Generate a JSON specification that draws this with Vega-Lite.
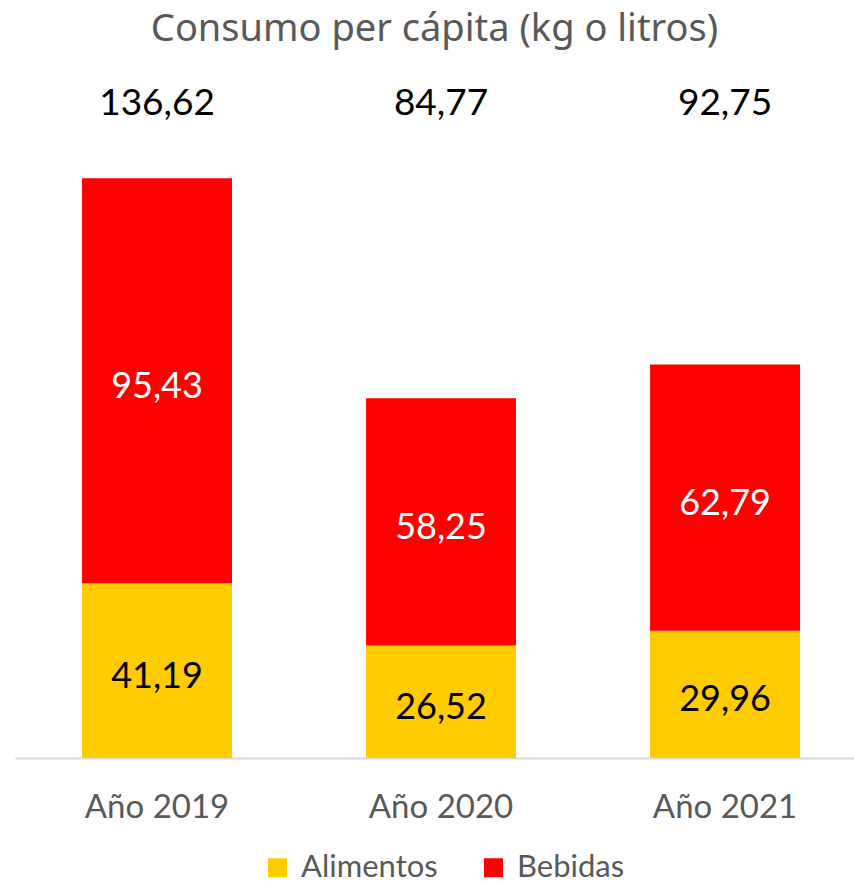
{
  "$schema": "https://vega.github.io/schema/vega-lite/v6.json",
  "autosize": {"type": "none"},
  "width": 839,
  "height": 679,
  "padding": {"left": 15, "top": 79, "right": 0, "bottom": 127},
  "background": "white",
  "config": {
    "view": {"stroke": null},
    "locale": {"number": {"decimal": ",", "thousands": ".", "grouping": [3], "currency": ["", " €"]}}
  },
  "title": {
    "text": "Consumo per cápita (kg o litros)",
    "font": "Noto Sans",
    "fontSize": 38,
    "fontWeight": "normal",
    "color": "#595959",
    "anchor": "middle",
    "baseline": "alphabetic",
    "offset": 0
  },
  "datasets": {
    "segs": [
      {"anio": "Año 2019", "tipo": "Alimentos", "valor": 41.19},
      {"anio": "Año 2019", "tipo": "Bebidas", "valor": 95.43},
      {"anio": "Año 2020", "tipo": "Alimentos", "valor": 26.52},
      {"anio": "Año 2020", "tipo": "Bebidas", "valor": 58.25},
      {"anio": "Año 2021", "tipo": "Alimentos", "valor": 29.96},
      {"anio": "Año 2021", "tipo": "Bebidas", "valor": 62.79}
    ],
    "totals": [
      {"anio": "Año 2019", "total": 136.62},
      {"anio": "Año 2020", "total": 84.77},
      {"anio": "Año 2021", "total": 92.75}
    ]
  },
  "encoding": {
    "x": {
      "field": "anio",
      "type": "nominal",
      "sort": null,
      "scale": {"paddingInner": 0.472, "paddingOuter": 0.213, "align": 0.554},
      "axis": {
        "title": null,
        "labelAngle": 0,
        "ticks": false,
        "domainColor": "#D9D9D9",
        "domainWidth": 2,
        "labelFont": "Lato",
        "labelFontSize": 33,
        "labelColor": "#595959",
        "labelPadding": 33
      }
    }
  },
  "layer": [
    {
      "data": {"name": "segs"},
      "mark": {"type": "bar"},
      "encoding": {
        "y": {"field": "valor", "type": "quantitative", "stack": "zero", "scale": {"domain": [0, 160], "nice": false}, "axis": null},
        "color": {
          "field": "tipo",
          "type": "nominal",
          "scale": {"domain": ["Alimentos", "Bebidas"], "range": ["#FFCC00", "#FF0000"]},
          "legend": {
            "title": null,
            "orient": "none",
            "direction": "horizontal",
            "legendX": 247,
            "legendY": 773,
            "symbolType": "square",
            "symbolSize": 361,
            "symbolStrokeWidth": 0,
            "labelFont": "Lato",
            "labelFontSize": 31,
            "labelColor": "#595959",
            "labelOffset": 8,
            "columnPadding": 40
          }
        },
        "order": {"field": "tipo", "sort": "ascending"}
      }
    },
    {
      "data": {"name": "segs"},
      "mark": {"type": "text", "font": "Lato", "fontSize": 36, "baseline": "middle", "dy": 6},
      "encoding": {
        "y": {"field": "valor", "type": "quantitative", "stack": "zero", "bandPosition": 0.5},
        "detail": {"field": "tipo"},
        "order": {"field": "tipo", "sort": "ascending"},
        "text": {"field": "valor", "type": "quantitative", "format": ".2f"},
        "color": {"condition": {"test": "datum.tipo === 'Bebidas'", "value": "white"}, "value": "black"}
      }
    },
    {
      "data": {"name": "totals"},
      "mark": {"type": "text", "font": "Lato", "fontSize": 37, "baseline": "middle", "color": "black"},
      "encoding": {
        "y": {"datum": 154, "type": "quantitative"},
        "text": {"field": "total", "type": "quantitative", "format": ".2f"}
      }
    }
  ]
}
